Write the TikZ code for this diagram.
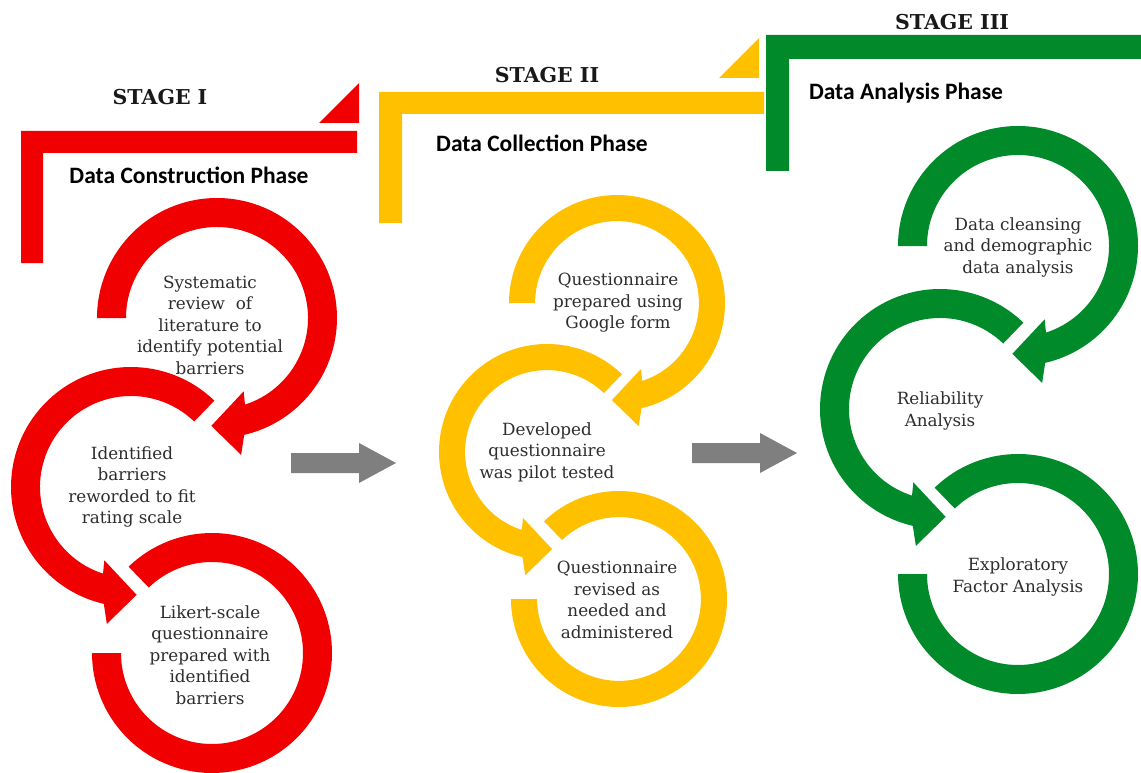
\documentclass[tikz,border=0pt]{standalone}
\usepackage{fontspec}
\setmainfont{DejaVu Serif}
\newfontfamily\phasefont{Carlito}
\definecolor{stred}{RGB}{240,0,0}
\definecolor{styellow}{RGB}{255,192,0}
\definecolor{stgreen}{RGB}{0,138,42}
\definecolor{stgray}{RGB}{127,127,127}
\definecolor{txtgray}{RGB}{45,45,45}
\tikzset{
  ringcw/.pic={\fill[pic actions] (180:91) -- (180:120) arc[start angle=180, end angle=-76.9, radius=120] -- (-80:139) -- (-93:108) -- (-70:78) -- (-72.1:91) arc[start angle=-72.1, end angle=180, radius=91] -- cycle;},
  ringccw/.pic={\fill[pic actions] (46:91) -- (46:120) arc[start angle=46, end angle=256.9, radius=120] -- (260:139) -- (273:108) -- (250:78) -- (252.1:91) arc[start angle=252.1, end angle=46, radius=91] -- cycle;},
  ringend/.pic={\fill[pic actions] (134:91) -- (134:120) arc[start angle=134, end angle=-180, radius=120] -- (-180:91) arc[start angle=-180, end angle=134, radius=91] -- cycle;},
  circtext/.style={align=center, text=txtgray, font=\fontsize{16.8}{21.5}\selectfont, inner sep=0pt},
  stagetext/.style={text=black!90, font=\fontsize{20.5}{24}\selectfont\bfseries, inner sep=0pt},
  phasetext/.style={text=black, font=\phasefont\fontsize{23.5}{27}\selectfont\bfseries, inner sep=0pt}
}
\begin{document}
\begin{tikzpicture}[x=1pt,y=-1pt]
\useasboundingbox (0,0) rectangle (1141,773);
\fill[white] (0,0) rectangle (1141,773);
% ---------- brackets ----------
\fill[stred] (21,131) -- (357,131) -- (357,153) -- (43,153) -- (43,263) -- (21,263) -- cycle;
\fill[stred] (319,123) -- (359,83) -- (359,123) -- cycle;
\fill[styellow] (379,92) -- (764,92) -- (764,114) -- (402,114) -- (402,223) -- (379,223) -- cycle;
\fill[styellow] (719,78) -- (759,38) -- (759,78) -- cycle;
\fill[stgreen] (766,35) -- (1141,35) -- (1141,59) -- (789,59) -- (789,171) -- (766,171) -- cycle;
% ---------- titles ----------
\node[stagetext] (s1) at (160,97) {STAGE I};
\node[stagetext] (s2) at (547,75) {STAGE II};
\node[stagetext] (s3) at (952,22) {STAGE III};
\node[phasetext] (p1) at (189,175) {Data Construction Phase};
\node[phasetext] (p2) at (542,143) {Data Collection Phase};
\node[phasetext] (p3) at (906,93) {Data Analysis Phase};
% ---------- red rings ----------
\begin{scope}[shift={(217,318)}, y=1pt]\pic[fill=stred] {ringcw};\end{scope}
\begin{scope}[shift={(131,487)}, y=1pt]\pic[fill=stred] {ringccw};\end{scope}
\begin{scope}[shift={(212,653)}, y=1pt]\pic[fill=stred] {ringend};\end{scope}
% ---------- yellow rings ----------
\begin{scope}[shift={(617,303)}, x=0.9pt, y=0.9pt]\pic[fill=styellow] {ringcw};\end{scope}
\begin{scope}[shift={(547,452)}, x=0.9pt, y=0.9pt]\pic[fill=styellow] {ringccw};\end{scope}
\begin{scope}[shift={(619,599)}, x=0.9pt, y=0.9pt]\pic[fill=styellow] {ringend};\end{scope}
% ---------- green rings ----------
\begin{scope}[shift={(1018,246)}, y=1pt]\pic[fill=stgreen] {ringcw};\end{scope}
\begin{scope}[shift={(940,409)}, y=1pt]\pic[fill=stgreen] {ringccw};\end{scope}
\begin{scope}[shift={(1018,574)}, y=1pt]\pic[fill=stgreen] {ringend};\end{scope}
% ---------- ring texts ----------
\node[circtext] (r1) at (210,325) {Systematic\\review\ \ of\\literature to\\identify potential\\barriers};
\node[circtext] (r2) at (132,487) {Identified\\barriers\\reworded to fit\\rating scale};
\node[circtext] (r3) at (210,655) {Likert-scale\\questionnaire\\prepared with\\identified\\barriers};
\node[circtext] (y1) at (618,303) {Questionnaire\\prepared using\\Google form};
\node[circtext] (y2) at (547,452) {Developed\\questionnaire\\was pilot tested};
\node[circtext] (y3) at (617,600) {Questionnaire\\revised as\\needed and\\administered};
\node[circtext] (g1) at (1018,247) {Data cleansing\\and demographic\\data analysis};
\node[circtext] (g2) at (940,411) {Reliability\\Analysis};
\node[circtext] (g3) at (1018,577) {Exploratory\\Factor Analysis};
% ---------- gray arrows ----------
\fill[stgray] (291,453) -- (359,453) -- (359,443) -- (396,463) -- (359,483) -- (359,473) -- (291,473) -- cycle;
\fill[stgray] (692,443) -- (760,443) -- (760,433) -- (797,453) -- (760,473) -- (760,463) -- (692,463) -- cycle;
\end{tikzpicture}
\end{document}
